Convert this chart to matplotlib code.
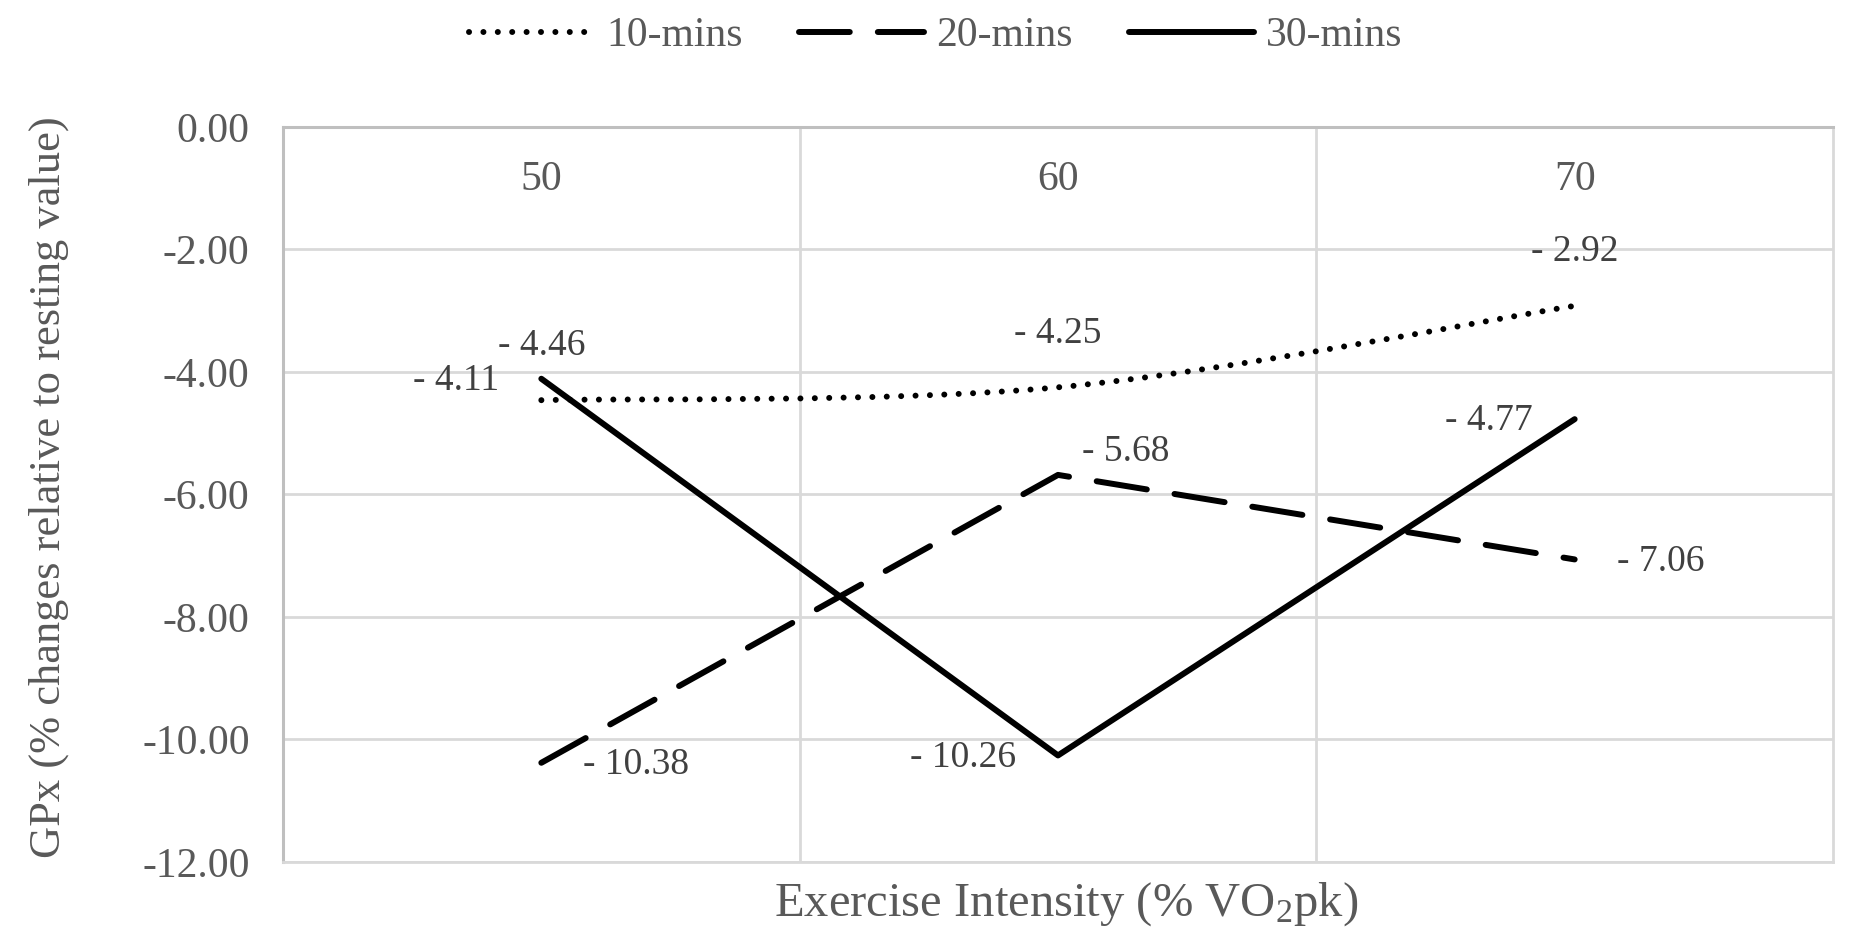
import numpy as np
import matplotlib
matplotlib.use("Agg")
import matplotlib.pyplot as plt
from matplotlib.path import Path
from matplotlib.patches import PathPatch
from matplotlib.lines import Line2D

# data
categories = ["50", "60", "70"]
series_names = ["10-mins", "20-mins", "30-mins"]
mins10 = [-4.46, -4.25, -2.92]
mins20 = [-10.38, -5.68, -7.06]
mins30 = [-4.11, -10.26, -4.77]
y_ticks = [0, -2, -4, -6, -8, -10, -12]

# where each data label sits relative to its point
place10 = ["above", "above", "above"]
place20 = ["right", "right_up", "right"]
place30 = ["left", "left", "left"]

GRID = "#d9d9d9"
AXIS = "#bfbfbf"
TXT = "#595959"
LBL = "#404040"
LW = 4.3
FS = 27       # data labels
FS_TICK = 30
FS_LEG = 30
FS_YLAB = 32
FS_XLAB = 35

plt.rcParams["font.family"] = ["Liberation Serif", "DejaVu Serif"]
plt.rcParams["mathtext.fontset"] = "custom"
plt.rcParams["mathtext.rm"] = "Liberation Serif"
plt.rcParams["mathtext.it"] = "Liberation Serif"
plt.rcParams["axes.unicode_minus"] = False

DOT = (0, (0.01, 2.4))
DASH = (0, (8.5, 4.7))


def smooth_path(xs, ys):
    # Catmull-Rom style bezier, like Excel's "smoothed line"
    pts = np.column_stack([xs, ys]).astype(float)
    ext = np.vstack([pts[0], pts, pts[-1]])
    verts = [tuple(pts[0])]
    codes = [Path.MOVETO]
    for i in range(len(pts) - 1):
        p0, p1, p2, p3 = ext[i], ext[i + 1], ext[i + 2], ext[i + 3]
        c1 = p1 + (p2 - p0) / 6.0
        c2 = p2 - (p3 - p1) / 6.0
        verts += [tuple(c1), tuple(c2), tuple(p2)]
        codes += [Path.CURVE4] * 3
    return Path(verts, codes)


fig = plt.figure(figsize=(18.55, 9.38), dpi=100)
ax = fig.add_axes([283 / 1855, 1 - 862 / 938, 1550 / 1855, 735 / 938])

x = np.arange(len(categories))

# 10-mins: smoothed dotted line
ax.add_patch(PathPatch(smooth_path(x, mins10), fill=False, edgecolor="black",
                       linewidth=LW, linestyle=DOT, capstyle="round", zorder=3))
ax.plot(x, mins20, color="black", linewidth=LW, linestyle=DASH,
        dash_capstyle="round", solid_joinstyle="round", zorder=3)
ax.plot(x, mins30, color="black", linewidth=LW, linestyle="-",
        solid_capstyle="round", solid_joinstyle="round", zorder=3)

offsets = {
    "above": ((0, 54), "center"),
    "left": ((-42, -2), "right"),
    "right": ((42, -2), "left"),
    "right_up": ((24, 23), "left"),
}
for vals, places in [(mins10, place10), (mins20, place20), (mins30, place30)]:
    for xi, v, p in zip(x, vals, places):
        off, ha = offsets[p]
        ax.annotate(f"- {abs(v):.2f}", (xi, v), xytext=off, textcoords="offset pixels",
                    ha=ha, va="center", fontsize=FS, color=LBL, zorder=4)

ax.set_xlim(-0.5, len(categories) - 0.5)
ax.set_ylim(min(y_ticks), max(y_ticks))
ax.set_yticks(y_ticks)
ax.set_yticklabels([f"{t:.2f}" for t in y_ticks])
ax.set_xticks(x)
ax.set_xticklabels(categories)
ax.set_xticks(np.arange(len(categories) - 1) + 0.5, minor=True)

ax.tick_params(axis="y", length=0, pad=24, labelsize=FS_TICK, labelcolor=TXT)
ax.tick_params(axis="x", which="both", length=0, labeltop=True, labelbottom=False,
               pad=-52, labelsize=FS_TICK, labelcolor=TXT)
ax.grid(True, axis="y", which="major", color=GRID, linewidth=2.0)
ax.grid(True, axis="x", which="minor", color=GRID, linewidth=2.0)
ax.grid(False, axis="x", which="major")
ax.set_axisbelow(True)

ax.spines["left"].set_color(AXIS)
ax.spines["top"].set_color(AXIS)
ax.spines["left"].set_linewidth(2.2)
ax.spines["top"].set_linewidth(2.2)
ax.spines["right"].set_color(GRID)
ax.spines["bottom"].set_color(GRID)
ax.spines["right"].set_linewidth(2.0)
ax.spines["bottom"].set_linewidth(2.0)

ax.set_ylabel("GPx (% changes relative to resting value)", fontsize=FS_YLAB, color=TXT)
ax.yaxis.set_label_coords(-0.138, 0.51)
ax.set_xlabel("Exercise Intensity (% VO$_2$pk)", fontsize=FS_XLAB, color=TXT)
ax.xaxis.set_label_coords(0.505, -0.025)

handles = [
    Line2D([], [], color="black", linewidth=LW, linestyle=DOT, dash_capstyle="round"),
    Line2D([], [], color="black", linewidth=LW, linestyle=DASH, dash_capstyle="round"),
    Line2D([], [], color="black", linewidth=LW, solid_capstyle="round"),
]
fig.legend(handles, series_names, loc="center", bbox_to_anchor=(936 / 1855, 1 - 36 / 938),
           ncol=3, frameon=False, fontsize=FS_LEG, labelcolor=TXT, handlelength=3.0,
           handletextpad=0.29, columnspacing=1.35)

fig.savefig("out.png", dpi=100)
